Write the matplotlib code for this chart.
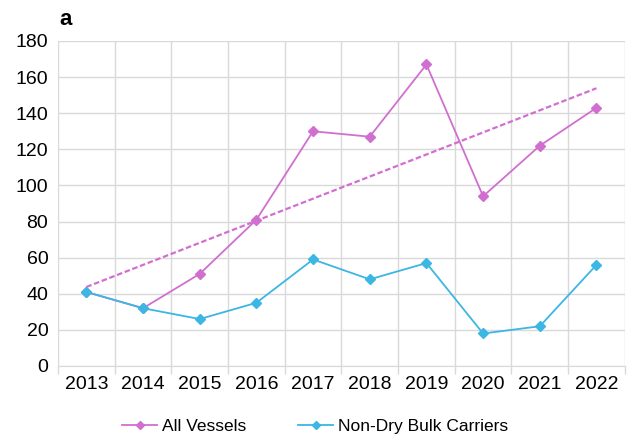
import numpy as np
import matplotlib
matplotlib.use("Agg")
import matplotlib.pyplot as plt

plt.rcParams["font.family"] = ["Liberation Sans", "DejaVu Sans"]

# Data
years = ["2013", "2014", "2015", "2016", "2017", "2018", "2019", "2020", "2021", "2022"]
all_vessels = [41, 32, 51, 81, 130, 127, 167, 94, 122, 143]
non_dry_bulk = [41, 32, 26, 35, 59, 48, 57, 18, 22, 56]

pink = "#d16fd1"
blue = "#3cb6e3"
grid = "#d9d9d9"

x = np.arange(len(years))

fig = plt.figure(figsize=(6.27, 4.38), dpi=100)
ax = fig.add_axes([0.0925, 0.1644, 0.904, 0.742])

# linear trend of all vessels
slope, icept = np.polyfit(x, all_vessels, 1)
ax.plot(x, slope * x + icept, color=pink, lw=1.6, ls=(0, (2.5, 1.2)), zorder=2)

ax.plot(x, all_vessels, color=pink, lw=1.3, marker="D", ms=5.5, label="All Vessels", zorder=3)
ax.plot(x, non_dry_bulk, color=blue, lw=1.3, marker="D", ms=5.5, label="Non-Dry Bulk Carriers", zorder=4)

ax.set_xlim(-0.5, len(years) - 0.5)
ax.set_ylim(0, 180)
ax.set_yticks(range(0, 181, 20))
ax.set_xticks(x)
ax.set_xticklabels(years)
ax.set_xticks(np.arange(-0.5, len(years), 1), minor=True)

ax.grid(True, axis="y", color=grid, lw=1.0, zorder=0)
ax.grid(True, axis="x", which="minor", color=grid, lw=1.0, zorder=0)
ax.tick_params(axis="x", which="major", length=0, labelsize=14, pad=7)
ax.tick_params(axis="x", which="minor", length=6, color=grid, width=1.0)
ax.tick_params(axis="y", length=0, labelsize=14, pad=7)
for s in ax.spines.values():
    s.set_visible(False)
ax.spines["bottom"].set_visible(True)
ax.spines["bottom"].set_color(grid)

fig.text(0.095, 0.955, "a", fontsize=16, fontweight="bold", va="center")

fig.legend(loc="center", bbox_to_anchor=(0.503, 0.027), ncol=2, frameon=False,
           fontsize=12.5, handlelength=2.0, handletextpad=0.3, columnspacing=3.0,
           markerscale=0.7)

fig.savefig("out.png", dpi=100)
